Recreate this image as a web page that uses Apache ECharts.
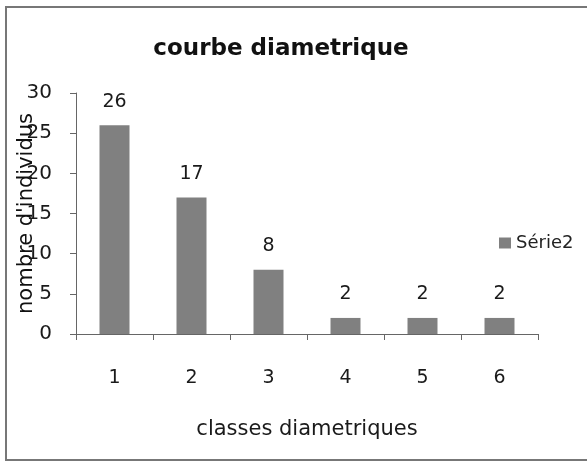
<!DOCTYPE html>
<html>
<head>
<meta charset="utf-8">
<script src="https://cdn.jsdelivr.net/npm/echarts@6/dist/echarts.min.js"></script>
<style>
  html, body { margin: 0; padding: 0; background: #fff; }
  #graph { width: 587px; height: 462px; }
</style>
</head>
<body>
<div id="graph"></div>
<script>
// classes et effectifs
let classes = ["1", "2", "3", "4", "5", "6"];
let individus = [26, 17, 8, 2, 2, 2];
let serieName = "Série2";

let fontName = "DejaVu Sans";
let myChart = echarts.init(document.getElementById('graph'));

let option = {
    backgroundColor: '#fff',
    animation: false,
    textStyle: { fontFamily: fontName, color: '#1a1a1a' },
    title: {
        text: "courbe diametrique",
        left: 276,
        top: 33,
        textAlign: 'center',
        textStyle: { fontFamily: fontName, fontSize: 23, fontWeight: 'bold', color: '#111' }
    },
    // cadre du graphique
    graphic: [{
        type: 'rect',
        shape: { x: 6, y: 7, width: 600, height: 453 },
        style: { fill: 'none', stroke: '#777', lineWidth: 2 },
        z: -1
    }],
    legend: {
        left: 494,
        top: 229,
        itemWidth: 12,
        itemHeight: 11,
        itemGap: 8,
        data: [{ name: serieName, icon: 'rect' }],
        textStyle: { fontFamily: fontName, fontSize: 18, color: '#222' }
    },
    grid: { left: 76, right: 49, top: 93, bottom: 128 },
    xAxis: {
        type: 'category',
        data: classes,
        name: "classes diametriques",
        nameLocation: 'middle',
        nameGap: 85,
        nameMoveOverlap: false,
        nameTextStyle: { fontFamily: fontName, fontSize: 21, color: '#1a1a1a' },
        axisLine: { lineStyle: { color: '#666', width: 1 } },
        axisTick: { show: true, length: 6, inside: false, lineStyle: { color: '#666' } },
        axisLabel: { fontFamily: fontName, fontSize: 19, color: '#1a1a1a', margin: 35 }
    },
    yAxis: {
        type: 'value',
        min: 0,
        max: 30,
        interval: 5,
        name: "nombre d'individus",
        nameLocation: 'middle',
        nameGap: 39,
        nameMoveOverlap: false,
        nameTextStyle: { fontFamily: fontName, fontSize: 21, color: '#111' },
        axisLine: { show: true, lineStyle: { color: '#666', width: 1 } },
        axisTick: { show: true, length: 6, lineStyle: { color: '#666' } },
        splitLine: { show: false },
        axisLabel: { fontFamily: fontName, fontSize: 20, color: '#1a1a1a', margin: 24 }
    },
    series: [{
        name: serieName,
        type: 'bar',
        data: individus,
        barWidth: 30,
        itemStyle: { color: '#808080' },
        label: {
            show: true,
            position: 'top',
            distance: 14,
            fontFamily: fontName,
            fontSize: 19,
            color: '#1a1a1a'
        }
    }]
};
myChart.setOption(option);
</script>
</body>
</html>
